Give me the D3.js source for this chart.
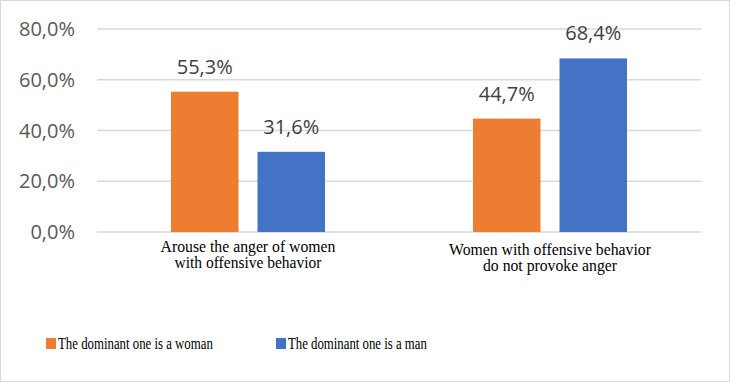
<!DOCTYPE html>
<html><head><meta charset="utf-8">
<script src="https://cdn.jsdelivr.net/npm/d3@7"></script>
<style>body{margin:0;background:#fff}svg{display:block}</style>
</head><body>
<script>
const categories = [["Arouse the anger of women","with offensive behavior"],["Women with offensive behavior","do not provoke anger"]];
const series = ["The dominant one is a woman","The dominant one is a man"];
const womanValues = [55.3, 44.7];
const manValues = [31.6, 68.4];
const yTicks = [0, 20, 40, 60, 80];
const colors = ["#ED7D31", "#4472C4"];

const W = 730, H = 382;
const serif = '"Liberation Serif"';
const sans = '"Open Sans"';
const svg = d3.select("body").append("svg").attr("width", W).attr("height", H);
svg.append("rect").attr("x",0.5).attr("y",0.5).attr("width",W-1).attr("height",H-1)
  .attr("fill","#fff").attr("stroke","#d9d9d9");

const catIdx = categories.map((c,i)=>i);
const x0 = d3.scaleBand().domain(catIdx).range([97,701]).paddingInner(0.49).paddingOuter(0.245);
const x1 = d3.scaleBand().domain([0,1]).range([0,x0.bandwidth()]).paddingInner(0.22);
const y = d3.scaleLinear().domain([0,80]).range([232,29]);

const fmt = v => v.toFixed(1).replace(".", ",") + "%";

svg.append("g").selectAll("line").data(yTicks).join("line")
  .attr("x1",97).attr("x2",701).attr("y1",d=>y(d)).attr("y2",d=>y(d))
  .attr("stroke","#d9d9d9").attr("stroke-width",1.3);

svg.append("g").selectAll("text").data(yTicks).join("text")
  .attr("x",75).attr("y",d=>y(d)).attr("dy","0.36em").attr("text-anchor","end")
  .style("font-family",sans).style("font-size","20px").attr("fill","#595959")
  .text(d=>fmt(d));

// squeeze a serif text horizontally to a target width, anchored at (cx, by)
function squeezed(parent, str, x, by, size, target, anchor) {
  const t = parent.append("text").attr("x",0).attr("y",0)
    .style("font-family",serif).style("font-size",size+"px").attr("fill","#000")
    .attr("text-anchor",anchor).text(str);
  const w = t.node().getComputedTextLength() || target;
  const sx = Math.min(1, target / w);
  t.attr("transform",`translate(${x},${by}) scale(${sx},1)`);
  return t;
}

const data = [womanValues, manValues];
const g = svg.append("g");
const lineWidths = [[175,147],[202,134]];
const lineBase = [[252,268],[255,271]];
catIdx.forEach(ci=>{
  data.forEach((vals,si)=>{
    const bx = x0(ci)+x1(si), v = vals[ci];
    g.append("rect").attr("x",bx).attr("y",y(v)).attr("width",x1.bandwidth())
      .attr("height",y(0)-y(v)).attr("fill",colors[si]);
    g.append("text").attr("x",bx+x1.bandwidth()/2).attr("y",y(v)-18)
      .attr("text-anchor","middle").style("font-family",sans)
      .style("font-size","20px").attr("fill","#404040").text(fmt(v));
  });
  categories[ci].forEach((line,li)=>{
    squeezed(svg, line, x0(ci)+x0.bandwidth()/2, lineBase[ci][li], 16.5, lineWidths[ci][li], "middle");
  });
});

const legX = [46, 276];
const legW = [155, 139];
series.forEach((s,i)=>{
  svg.append("rect").attr("x",legX[i]).attr("y",338).attr("width",10).attr("height",11).attr("fill",colors[i]);
  squeezed(svg, s, legX[i]+12, 349, 16.5, legW[i], "start");
});
</script>
</body></html>
